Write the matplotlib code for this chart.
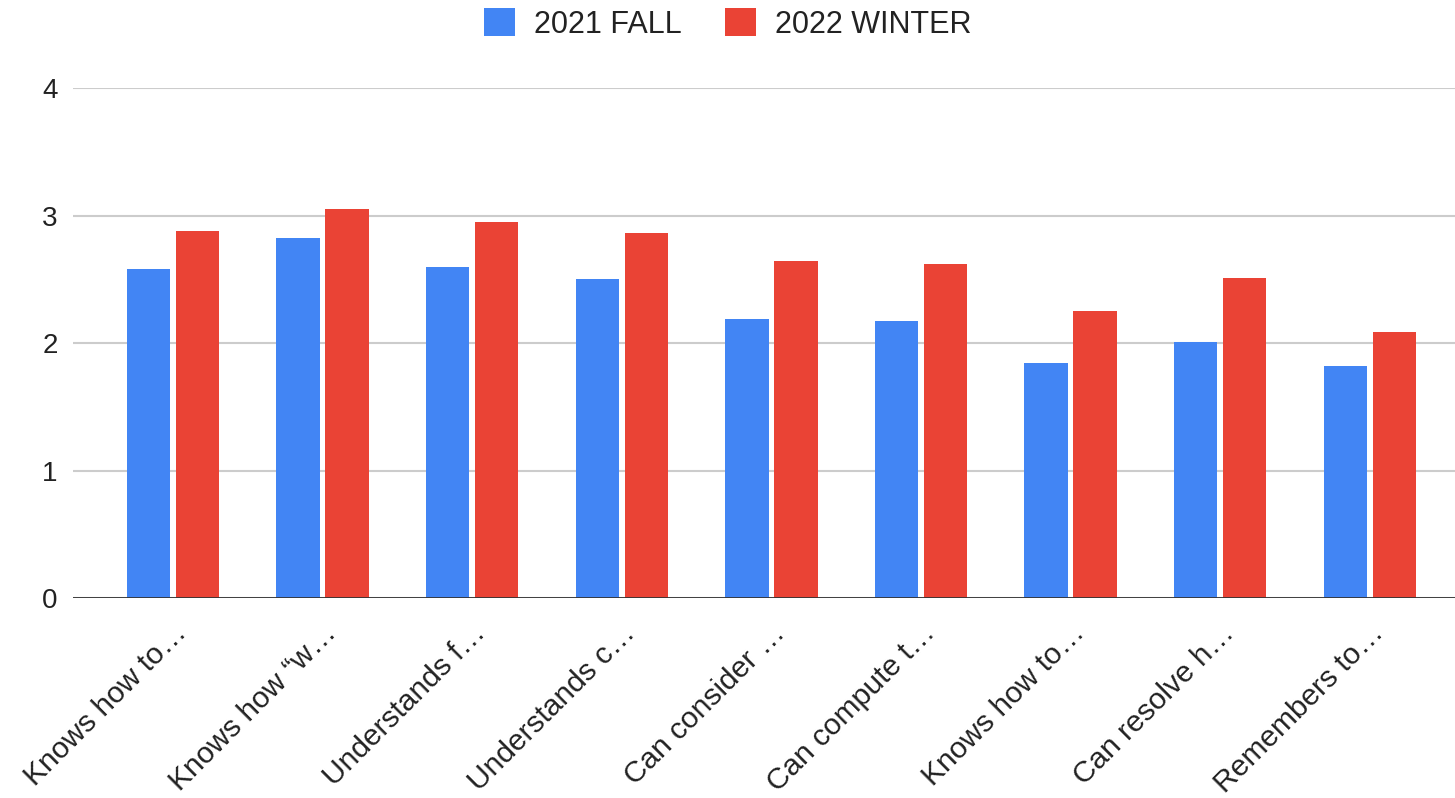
import numpy as np
import matplotlib.pyplot as plt
from matplotlib.transforms import ScaledTranslation

plt.switch_backend('Agg')
plt.rcParams['font.family'] = ['Liberation Sans', 'DejaVu Sans']

# Data
categories = ['Knows how to…', 'Knows how “w…', 'Understands f…', 'Understands c…',
              'Can consider …', 'Can compute t…', 'Knows how to…', 'Can resolve h…',
              'Remembers to…']
fall_2021 = [2.58, 2.82, 2.60, 2.50, 2.19, 2.17, 1.84, 2.01, 1.82]
winter_2022 = [2.88, 3.05, 2.95, 2.86, 2.64, 2.62, 2.25, 2.51, 2.09]
series_names = ['2021 FALL', '2022 WINTER']

blue = '#4285F4'
red = '#EA4335'

fig = plt.figure(figsize=(14.55, 7.98), dpi=100)
ax = fig.add_axes([0.0502, 0.2506, 0.9498, 0.6391])

x = np.arange(len(categories))
w = 0.29
off = 0.164
ax.bar(x - off, fall_2021, width=w, color=blue, label=series_names[0], zorder=3)
ax.bar(x + off, winter_2022, width=w, color=red, label=series_names[1], zorder=3)

ax.set_xlim(-0.668, 8.57)
ax.set_ylim(0, 4)
ax.set_yticks([0, 1, 2, 3, 4])
ax.grid(axis='y', color='#cccccc', linewidth=1.5, zorder=0)
ax.axhline(0, color='#333333', linewidth=2, zorder=4)

for s in ax.spines.values():
    s.set_visible(False)

ax.tick_params(axis='y', length=0, pad=11, labelsize=20, labelcolor='#222222')
ax.tick_params(axis='x', length=0, pad=26, labelsize=21.5, labelcolor='#222222')
ax.set_xticks(x)
ax.set_xticklabels(categories, rotation=45, ha='right', va='baseline', rotation_mode='anchor')
# nudge labels so their ends sit just right of the group centre
shift = ScaledTranslation(15 / 100, 0, fig.dpi_scale_trans)
for lbl in ax.get_xticklabels():
    lbl.set_transform(lbl.get_transform() + shift)

fig.legend(loc='center', bbox_to_anchor=(0.5003, 0.97), ncol=2, frameon=False,
           fontsize=22, handlelength=1.0, handleheight=1.0, columnspacing=1.4,
           handletextpad=0.65, labelcolor='#222222')

fig.savefig('out.png', dpi=100, facecolor='white')
